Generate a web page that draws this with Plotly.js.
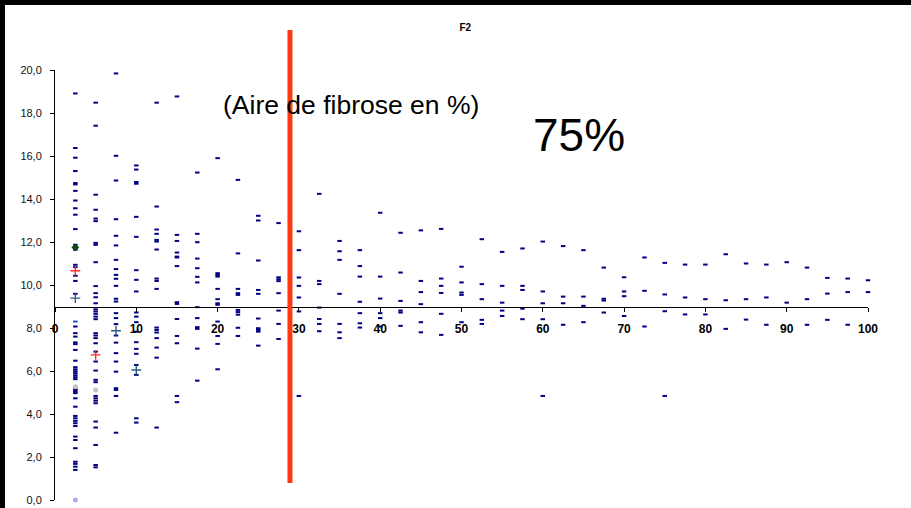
<!DOCTYPE html>
<html>
<head>
<meta charset="utf-8">
<script src="https://cdn.plot.ly/plotly-3.0.1.min.js"></script>
<style>
  html, body { margin: 0; padding: 0; background: #000; width: 911px; height: 508px; overflow: hidden; }
  #chart { position: absolute; left: 5px; top: 5px; width: 906px; height: 503px; background: #fff; }
</style>
</head>
<body>
<div id="chart"></div>
<script>
// Column x positions (aire de fibrose, %)
const columnX = [2.5, 5, 7.5, 10, 12.5, 15, 17.5, 20, 22.5, 25, 27.5, 30, 32.5, 35, 37.5, 40,
  42.5, 45, 47.5, 50, 52.5, 55, 57.5, 60, 62.5, 65, 67.5, 70, 72.5, 75, 77.5, 80, 82.5, 85,
  87.5, 90, 92.5, 95, 97.5, 100];

// Values read for each column (main navy series)
const columnY = [
  [18.91, 16.37, 15.92, 15.30, 14.74, 14.68, 14.38, 13.93, 13.57, 13.27, 12.60, 11.87, 11.64, 10.94, 10.83, 10.43, 10.19, 9.59, 8.07, 7.76, 7.60, 7.33, 7.25, 6.98, 6.48, 6.18, 6.08, 5.99, 5.90, 5.80, 5.71, 5.62, 5.20, 5.12, 5.04, 4.97, 4.73, 4.34, 3.91, 3.80, 3.68, 3.57, 3.44, 2.95, 2.79, 2.41, 1.78, 1.68, 1.55, 1.40],
  [18.48, 17.41, 14.20, 13.50, 13.09, 12.97, 11.96, 11.87, 11.06, 9.95, 9.62, 9.43, 9.15, 8.87, 8.77, 8.66, 8.53, 8.41, 7.76, 7.65, 7.53, 7.29, 6.90, 6.44, 6.02, 5.59, 5.48, 4.84, 4.73, 4.62, 4.50, 3.65, 3.37, 2.56, 1.63, 1.52],
  [19.84, 16.01, 14.86, 13.06, 12.29, 11.84, 11.17, 10.74, 10.47, 10.29, 9.96, 9.36, 9.23, 8.69, 8.46, 8.18, 7.65, 7.32, 6.83, 6.44, 5.97, 5.20, 5.12, 4.84, 3.13],
  [15.56, 15.37, 14.79, 14.71, 13.17, 12.24, 10.69, 10.24, 9.70, 8.72, 8.53, 8.27, 7.83, 7.34, 7.03, 6.80, 6.28, 5.82, 3.80, 3.60],
  [18.48, 13.65, 12.58, 12.38, 12.10, 12.02, 11.65, 10.30, 10.19, 9.82, 8.02, 7.91, 7.79, 7.53, 7.09, 6.62, 3.37],
  [18.77, 12.33, 12.05, 11.51, 11.32, 11.28, 10.88, 9.20, 9.12, 8.42, 7.63, 7.29, 4.84, 4.55],
  [15.23, 12.38, 11.99, 11.23, 10.78, 10.38, 10.12, 8.97, 8.46, 8.04, 7.96, 7.04, 5.55],
  [15.90, 10.55, 10.47, 10.39, 9.82, 9.34, 9.15, 9.08, 8.30, 7.63, 7.26, 6.08],
  [14.89, 11.47, 9.82, 9.62, 9.54, 8.84, 8.74, 8.62, 8.01, 7.63],
  [13.22, 13.00, 11.14, 9.77, 9.59, 8.44, 7.99, 7.91, 7.83, 7.18],
  [12.88, 10.36, 10.27, 10.18, 9.62, 8.81, 8.19, 7.49],
  [12.50, 11.62, 10.35, 9.96, 9.42, 8.77, 4.84],
  [14.24, 10.19, 10.04, 8.95, 8.42, 8.19, 7.85],
  [12.05, 11.57, 11.17, 9.59, 8.19, 7.80, 7.53],
  [11.62, 10.88, 10.39, 9.22, 8.69, 8.22, 8.02],
  [13.36, 10.39, 9.37, 8.69, 8.46, 8.07],
  [12.43, 10.58, 9.26, 8.81, 8.72, 8.10],
  [12.54, 10.19, 9.67, 9.11, 8.27, 7.80],
  [12.61, 10.30, 9.96, 9.63, 8.66, 7.68],
  [10.85, 10.12, 9.65, 9.54, 8.27],
  [12.13, 10.04, 9.34, 8.38, 8.19],
  [11.54, 9.96, 9.18, 8.81, 8.56],
  [11.70, 9.96, 9.77, 8.90, 8.41],
  [12.02, 9.70, 9.15, 8.41, 4.84],
  [11.81, 9.46, 9.15, 8.15],
  [11.62, 9.46, 9.03, 8.27],
  [10.81, 9.36, 9.28, 8.72],
  [10.36, 9.70, 9.48, 8.56],
  [11.28, 9.73, 8.07],
  [11.03, 9.56, 8.78, 4.84],
  [10.95, 9.42, 8.63],
  [10.95, 9.34, 8.63],
  [11.43, 9.29, 7.96],
  [11.00, 9.34, 8.39],
  [10.95, 9.42, 8.15],
  [11.06, 9.18],
  [10.81, 9.34, 8.15],
  [10.33, 9.60, 8.38],
  [10.30, 9.67, 8.15],
  [10.22, 9.67]
];

// Highlighted individual points
const blueX = [2.5];          const blueY = [8.30];
const redX = [2.5, 5];        const redY = [10.66, 6.75];
const crossX = [2.5, 7.5, 10]; const crossY = [9.39, 7.87, 6.05];
const greyX = [2.5, 5];       const greyY = [5.27, 5.12];
const greenX = [2.5];         const greenY = [11.75];
const lilacX = [2.5];         const lilacY = [0.0];

// Threshold line (F2 cut-off) and axis settings
const thresholdX = [28.9, 28.9];
const thresholdY = [0.79, 21.86];
const xTicks = [0, 10, 20, 30, 40, 50, 60, 70, 80, 90, 100];
const yTicks = [0, 2, 4, 6, 8, 10, 12, 14, 16, 18, 20];
const yRange = [0, 20];
const xCross = 9;

const navyX = [], navyY = [];
columnX.forEach((x, i) => columnY[i].forEach(y => { navyX.push(x); navyY.push(y); }));

const dash = (color) => ({ symbol: 'line-ew', size: 3.2, line: { color: color, width: 2 } });

const traces = [
  { x: navyX, y: navyY, mode: 'markers', type: 'scatter', cliponaxis: false, marker: dash('#000080'), hoverinfo: 'x+y' },
  { x: blueX, y: blueY, mode: 'markers', type: 'scatter', cliponaxis: false, marker: dash('#1f4fd6') },
  { x: lilacX, y: lilacY, mode: 'markers', type: 'scatter', cliponaxis: false, marker: { symbol: 'circle', size: 5, color: '#a9a9f5' } },
  { x: greyX, y: greyY, mode: 'markers', type: 'scatter', cliponaxis: false, marker: { symbol: 'circle', size: 5, color: '#c4c4c4' } },
  { x: greenX, y: greenY, mode: 'markers', type: 'scatter', cliponaxis: false, marker: { symbol: 'diamond', size: 6, color: '#0b4a12' } },
  { x: redX, y: redY, mode: 'markers', type: 'scatter', cliponaxis: false, marker: { symbol: 'cross-thin', size: 7, line: { color: '#ff2a2a', width: 1.4 } } },
  { x: crossX, y: crossY, mode: 'markers', type: 'scatter', cliponaxis: false, marker: { symbol: 'cross-thin', size: 7, line: { color: '#2f5a85', width: 1.4 } } }
];

const layout = {
  width: 906, height: 503,
  margin: { l: 50, r: 43, t: 65, b: 8, pad: 0 },
  paper_bgcolor: '#ffffff', plot_bgcolor: '#ffffff',
  showlegend: false,
  separators: ', ',
  title: {
    text: '<b>F2</b>',
    font: { family: 'Liberation Sans, Arial, sans-serif', size: 10, color: '#000' },
    xref: 'container', yref: 'container', x: 0.508, y: 0.956, xanchor: 'center', yanchor: 'middle'
  },
  xaxis: {
    range: [0, 100], anchor: 'free', position: xCross / yRange[1],
    showline: true, linecolor: '#000', linewidth: 1,
    ticks: 'outside', ticklen: 4, tickcolor: '#000', tickwidth: 1,
    tickvals: xTicks, ticktext: xTicks.map(String),
    tickfont: { family: 'Liberation Sans, Arial, sans-serif', size: 12, color: '#000', weight: 'bold' },
    ticklabelstandoff: 7,
    showgrid: false, zeroline: false
  },
  yaxis: {
    range: yRange, domain: [0, 1],
    showline: true, linecolor: '#000', linewidth: 1,
    ticks: 'outside', ticklen: 4, tickcolor: '#000', tickwidth: 1,
    tickvals: yTicks, tickformat: '.1f',
    tickfont: { family: 'Liberation Sans, Arial, sans-serif', size: 11, color: '#111' },
    ticklabelstandoff: 6,
    showgrid: false, zeroline: false
  },
  shapes: [{
    type: 'line', xref: 'x', yref: 'paper',
    x0: thresholdX[0], x1: thresholdX[1],
    y0: thresholdY[0] / yRange[1], y1: thresholdY[1] / yRange[1],
    line: { color: '#ff3a10', width: 5 }, layer: 'above'
  }],
  annotations: [
    { text: '(Aire de fibrose en %)', xref: 'paper', yref: 'paper', x: 0.364, y: 0.918,
      xanchor: 'center', yanchor: 'middle', showarrow: false,
      font: { family: 'Liberation Sans, Arial, sans-serif', size: 26.5, color: '#000' } },
    { text: '75%', xref: 'paper', yref: 'paper', x: 0.645, y: 0.848,
      xanchor: 'center', yanchor: 'middle', showarrow: false,
      font: { family: 'Liberation Sans, Arial, sans-serif', size: 46, color: '#000' } }
  ]
};

Plotly.newPlot('chart', traces, layout, { staticPlot: true, displayModeBar: false });
</script>
</body>
</html>
